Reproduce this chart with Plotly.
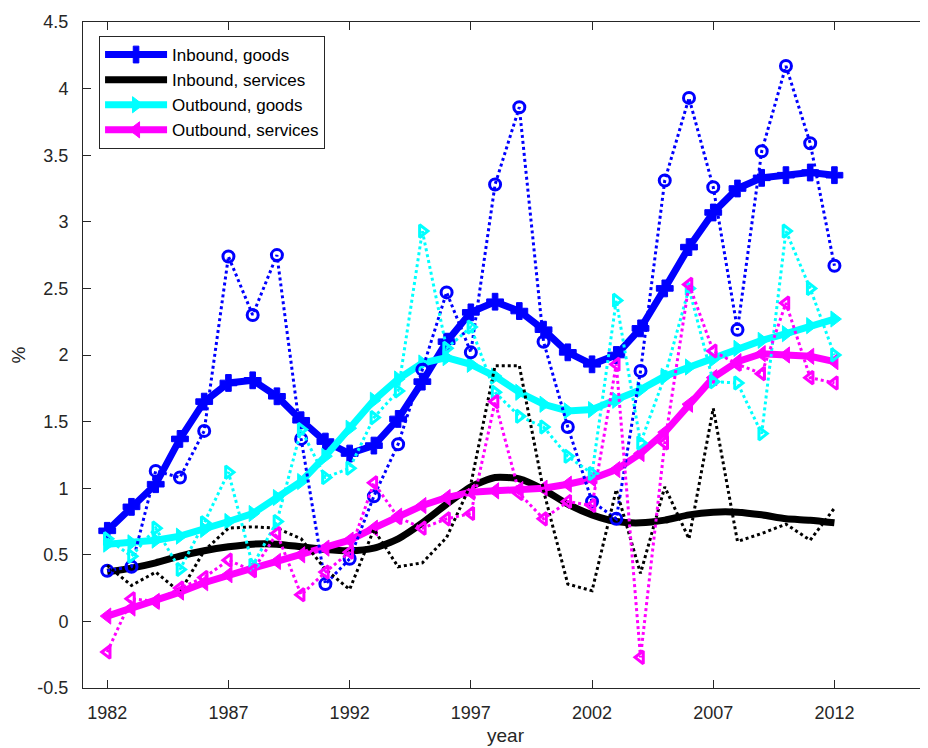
import plotly.graph_objects as go

years = list(range(1982, 2013))

inbound_goods_trend = [0.68, 0.86, 1.03, 1.37, 1.65, 1.79, 1.81, 1.69, 1.51, 1.35, 1.26, 1.32, 1.52, 1.80, 2.10,
                       2.32, 2.40, 2.33, 2.19, 2.02, 1.93, 2.00, 2.20, 2.50, 2.81, 3.07, 3.25, 3.33, 3.35, 3.37, 3.35]
inbound_goods_raw = [0.38, 0.41, 1.13, 1.08, 1.43, 2.74, 2.30, 2.75, 1.37, 0.28, 0.47, 0.94, 1.33, 1.89, 2.47,
                     2.02, 3.28, 3.86, 2.10, 1.46, 0.90, 0.77, 1.88, 3.31, 3.93, 3.26, 2.19, 3.53, 4.17, 3.59, 2.67]

inbound_services_trend = [0.37, 0.40, 0.44, 0.49, 0.53, 0.56, 0.58, 0.58, 0.56, 0.54, 0.53, 0.55, 0.62, 0.74, 0.88,
                          1.01, 1.08, 1.07, 0.99, 0.88, 0.80, 0.75, 0.74, 0.76, 0.80, 0.82, 0.82, 0.80, 0.77, 0.76, 0.74]
inbound_services_raw = [0.42, 0.27, 0.37, 0.22, 0.53, 0.70, 0.71, 0.70, 0.62, 0.39, 0.24, 0.69, 0.41, 0.44, 0.63,
                        1.03, 1.92, 1.92, 0.98, 0.28, 0.23, 0.99, 0.36, 1.01, 0.62, 1.60, 0.60, 0.66, 0.73, 0.61, 0.85]

outbound_goods_trend = [0.58, 0.59, 0.61, 0.64, 0.69, 0.75, 0.81, 0.93, 1.05, 1.24, 1.45, 1.66, 1.82, 1.94, 1.98,
                        1.93, 1.84, 1.72, 1.63, 1.58, 1.59, 1.66, 1.74, 1.84, 1.91, 1.97, 2.05, 2.11, 2.16, 2.22, 2.27]
outbound_goods_raw = [0.62, 0.49, 0.70, 0.39, 0.74, 1.12, 0.42, 0.75, 1.44, 1.08, 1.15, 1.53, 1.73, 2.93, 2.05,
                      2.21, 1.72, 1.54, 1.46, 1.24, 1.11, 2.41, 1.34, 1.84, 2.50, 1.80, 1.79, 1.41, 2.93, 2.50, 2.00]

outbound_services_trend = [0.04, 0.10, 0.15, 0.22, 0.29, 0.35, 0.40, 0.45, 0.50, 0.55, 0.61, 0.70, 0.79, 0.87, 0.93,
                           0.97, 0.98, 0.99, 1.00, 1.03, 1.07, 1.14, 1.26, 1.42, 1.63, 1.83, 1.95, 2.01, 2.00, 1.99, 1.95]
outbound_services_raw = [-0.23, 0.17, 0.15, 0.25, 0.33, 0.46, 0.38, 0.66, 0.20, 0.37, 0.52, 1.04, 0.78, 0.70, 0.77,
                         0.81, 1.65, 0.96, 0.77, 0.90, 0.87, 1.93, -0.27, 1.34, 2.53, 2.03, 1.93, 1.86, 2.39, 1.83, 1.79]

x_tick_vals = [1982, 1987, 1992, 1997, 2002, 2007, 2012]
y_tick_vals = [-0.5, 0, 0.5, 1, 1.5, 2, 2.5, 3, 3.5, 4, 4.5]
y_tick_text = ["-0.5", "0", "0.5", "1", "1.5", "2", "2.5", "3", "3.5", "4", "4.5"]

series_names = ["Inbound, goods", "Inbound, services", "Outbound, goods", "Outbound, services"]
colors = ["#0000FF", "#000000", "#00FFFF", "#FF00FF"]
trend_symbols = ["cross", None, "triangle-right", "triangle-left"]
raw_symbols = ["circle-open", None, "triangle-right-open", "triangle-left-open"]

trends = [inbound_goods_trend, inbound_services_trend, outbound_goods_trend, outbound_services_trend]
raws = [inbound_goods_raw, inbound_services_raw, outbound_goods_raw, outbound_services_raw]

fig = go.Figure()

for name, col, sym, ys in zip(series_names, colors, trend_symbols, trends):
    if sym is None:
        fig.add_trace(go.Scatter(x=years, y=ys, mode="lines", name=name,
                                 line=dict(color=col, width=7, shape="spline", smoothing=0.6)))
    else:
        fig.add_trace(go.Scatter(x=years, y=ys, mode="lines+markers", name=name,
                                 line=dict(color=col, width=7),
                                 marker=dict(symbol=sym, size=14, color=col,
                                             line=dict(color=col, width=1))))

for name, col, sym, ys in zip(series_names, colors, raw_symbols, raws):
    if sym is None:
        fig.add_trace(go.Scatter(x=years, y=ys, mode="lines", showlegend=False, name=name + " (annual)",
                                 line=dict(color=col, width=3, dash="dot")))
    else:
        fig.add_trace(go.Scatter(x=years, y=ys, mode="lines+markers", showlegend=False, name=name + " (annual)",
                                 line=dict(color=col, width=3, dash="dot"),
                                 marker=dict(symbol=sym, size=11, color=col, line=dict(color=col, width=3))))

axis_color = "#262626"
fig.update_layout(
    width=920, height=740,
    margin=dict(l=75, r=0, t=14, b=60),
    paper_bgcolor="white", plot_bgcolor="white",
    font=dict(family="Liberation Sans, Arial, Helvetica, sans-serif", size=18, color=axis_color),
    showlegend=True,
    legend=dict(x=0.019, y=0.979, xanchor="left", yanchor="top",
                bgcolor="white", bordercolor=axis_color, borderwidth=1,
                font=dict(size=17, color="black"), itemwidth=62,
                tracegroupgap=0),
    xaxis=dict(range=[1981, 2015.86], tickvals=x_tick_vals, ticks="inside", ticklen=8,
               tickcolor=axis_color, showline=True, linecolor=axis_color, linewidth=1,
               mirror="ticks", showgrid=False, zeroline=False, ticklabelstandoff=8,
               automargin=False,
               tickfont=dict(size=18, color=axis_color)),
    yaxis=dict(range=[-0.5, 4.5], tickvals=y_tick_vals, ticktext=y_tick_text, ticks="inside", ticklen=8,
               tickcolor=axis_color, showline=True, linecolor=axis_color, linewidth=1,
               mirror="ticks", showgrid=False, zeroline=False, ticklabelstandoff=10,
               automargin=False,
               tickfont=dict(size=18, color=axis_color),
               title=dict(text="%", font=dict(size=19, color=axis_color), standoff=10)),
    annotations=[dict(text="year", xref="paper", yref="paper", x=0.5, y=-0.072,
                      xanchor="center", yanchor="middle", showarrow=False,
                      font=dict(size=19, color=axis_color))],
)

fig.write_html("out.html")
